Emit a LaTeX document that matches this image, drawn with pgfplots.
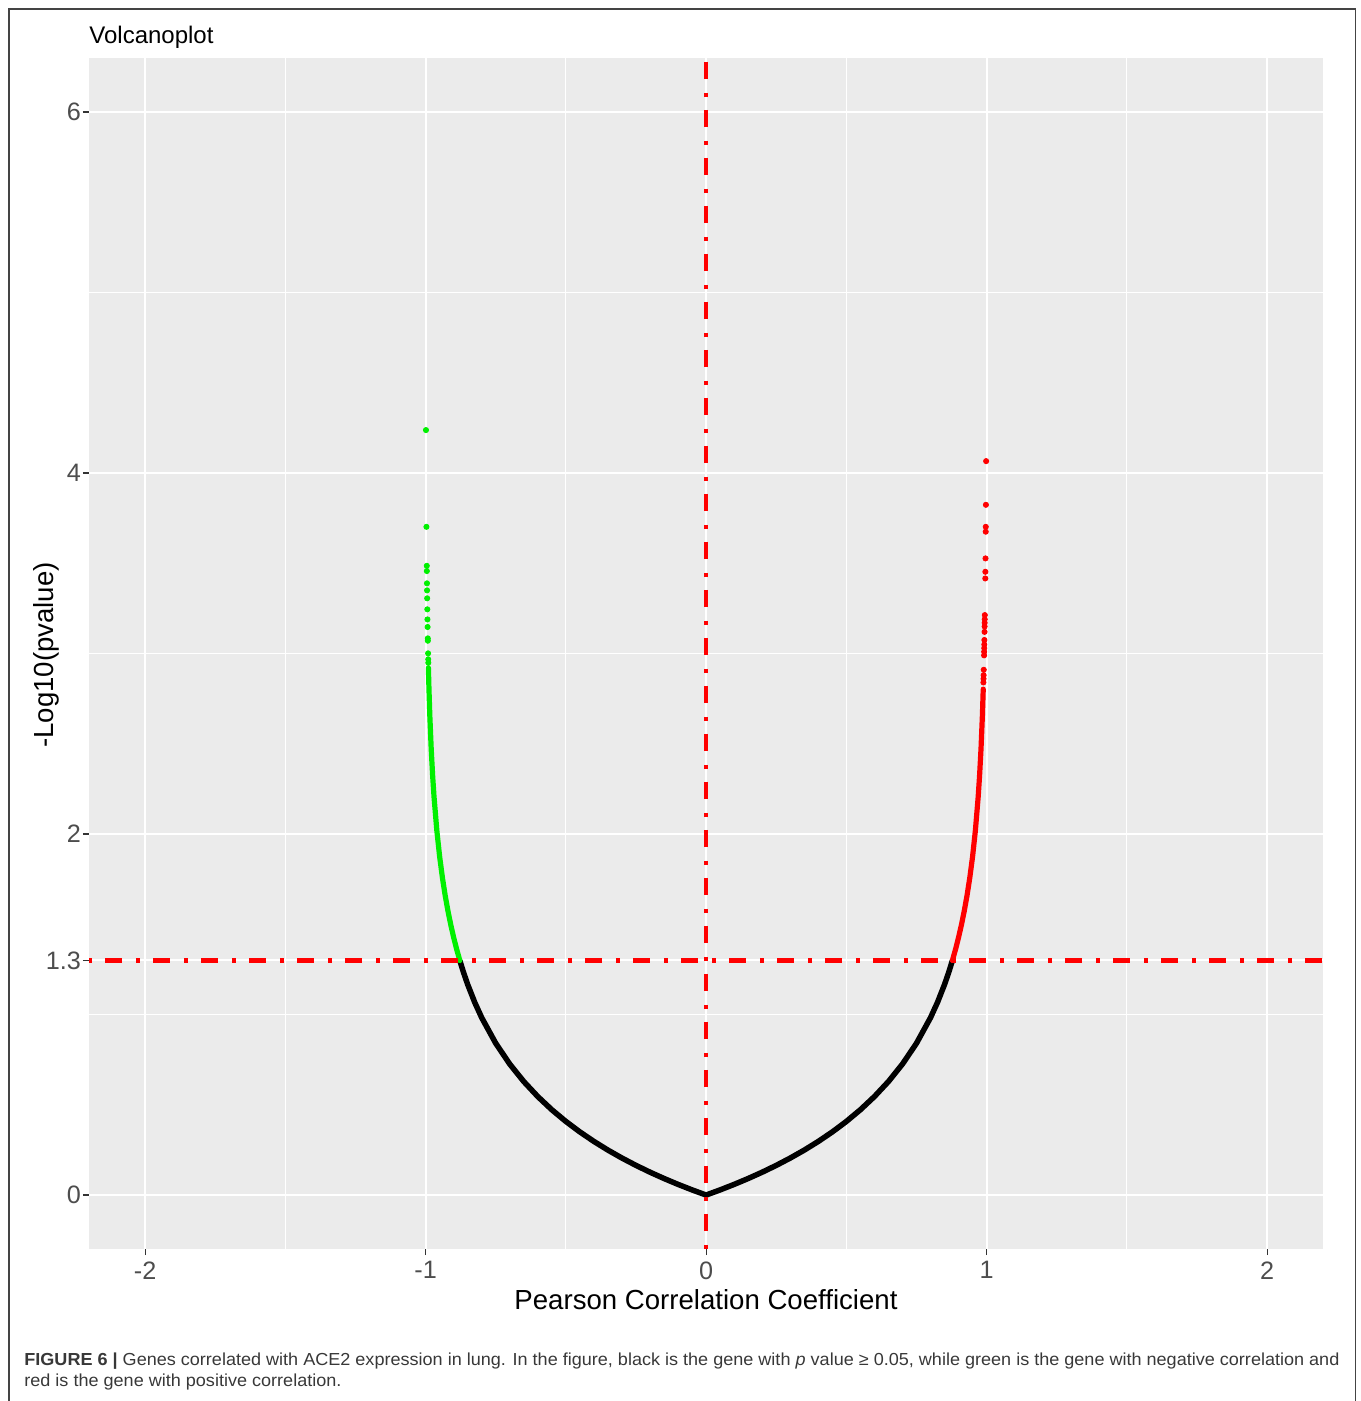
\documentclass[border=0pt]{standalone}
\usepackage{fontspec}
\setmainfont{Liberation Sans}
\usepackage{graphicx}
\usepackage{pgfplots}
\pgfplotsset{compat=1.18}
\definecolor{ggbg}{HTML}{EBEBEB}
\definecolor{gg20}{HTML}{333333}
\definecolor{gg30}{HTML}{4D4D4D}
\definecolor{ggGreen}{HTML}{00F000}
\definecolor{ggRed}{HTML}{FF0000}
\definecolor{frameC}{HTML}{444444}
\newlength\capw
\newcommand\capfont{\fontsize{8.7}{10}\selectfont}
\newcommand\capA{\textbf{FIGURE 6 |} Genes correlated with ACE2 expression in lung. In the figure, black is the gene with \textit{p} value ≥ 0.05, while green is the gene with negative correlation and}
\newcommand\capB{red is the gene with positive correlation.}
\begin{document}
\settowidth{\capw}{\capfont\capA}%
\pgfmathsetmacro\capscale{657.5pt/\capw}%
\begin{tikzpicture}
\path[use as bounding box] (0,0) rectangle (680pt,700.5pt);
\begin{axis}[
  at={(44.5pt,75.9pt)}, anchor=south west,
  width=617.1pt, height=595.65pt, scale only axis,
  xmin=-2.2, xmax=2.2, ymin=-0.3, ymax=6.3,
  axis background/.style={fill=ggbg},
  axis line style={draw=none},
  xtick={-2,-1,0,1,2}, xticklabels={-2,-1,0,1,2},
  ytick={0,1.3,2,4,6}, yticklabels={0,1.3,2,4,6},
  minor xtick={-1.5,-0.5,0.5,1.5}, minor ytick={1,3,5},
  grid=both,
  major grid style={white, line width=1pt},
  minor grid style={white, line width=0.5pt},
  tick align=outside, xtick pos=left, ytick pos=left,
  major tick length=3pt, minor tick length=0pt,
  tick style={color=gg20, line width=0.55pt},
  tick label style={font=\fontsize{12.6}{15}\selectfont, text=gg30},
  xticklabel style={inner sep=0pt, anchor=north, yshift=-3pt},
  yticklabel style={inner sep=0pt, anchor=east, xshift=-0.9pt},
]
% black: p >= 0.05
\addplot[black, line width=2.75pt, line join=round] coordinates {
(-0.878,1.29921)(-0.865,1.23417)(-0.85,1.16652)(-0.825,1.06785)(-0.8,0.98260)
(-0.75,0.84077)(-0.7,0.72558)(-0.65,0.62879)(-0.6,0.54550)(-0.55,0.47256)
(-0.5,0.40782)(-0.45,0.34968)(-0.4,0.29706)(-0.35,0.24900)(-0.3,0.20493)
(-0.25,0.16429)(-0.2,0.12665)(-0.15,0.09166)(-0.1,0.05904)(-0.05,0.02856)
(0,0)
(0.05,0.02856)(0.1,0.05904)(0.15,0.09166)(0.2,0.12665)(0.25,0.16429)
(0.3,0.20493)(0.35,0.24900)(0.4,0.29706)(0.45,0.34968)(0.5,0.40782)
(0.55,0.47256)(0.6,0.54550)(0.65,0.62879)(0.7,0.72558)(0.75,0.84077)
(0.8,0.98260)(0.825,1.06785)(0.85,1.16652)(0.865,1.23417)(0.878,1.29921)
};
% green: negative correlation
\addplot[ggGreen, line width=2.6pt, line join=round, line cap=round] coordinates {
(-0.878,1.29921)(-0.89,1.36585)(-0.9,1.42731)(-0.91,1.49526)(-0.92,1.57132)
(-0.93,1.65763)(-0.94,1.75739)(-0.95,1.87550)(-0.96,2.02018)(-0.97,2.20691)
(-0.975,2.32537)(-0.98,2.47044)(-0.985,2.65758)(-0.988,2.80273)(-0.99,2.92132)
};
\addplot[only marks, mark=*, mark size=1.3pt, color=ggGreen] coordinates {
(-0.99868,4.238)(-0.99699,3.702)(-0.99580,3.486)(-0.99561,3.457)(-0.99513,3.389)
(-0.99483,3.350)(-0.99447,3.306)(-0.99392,3.245)(-0.99338,3.189)(-0.99293,3.147)
(-0.99222,3.084)(-0.99206,3.071)(-0.99116,3.001)(-0.99070,2.968)(-0.99043,2.949)
};
% red: positive correlation
\addplot[ggRed, line width=2.6pt, line join=round, line cap=round] coordinates {
(0.878,1.29921)(0.89,1.36585)(0.9,1.42731)(0.91,1.49526)(0.92,1.57132)
(0.93,1.65763)(0.94,1.75739)(0.95,1.87550)(0.96,2.02018)(0.97,2.20691)
(0.975,2.32537)(0.98,2.47044)(0.985,2.65758)(0.988,2.80273)
};
\addplot[only marks, mark=*, mark size=1.3pt, color=ggRed] coordinates {
(0.98868,2.84)(0.98902,2.86)(0.98936,2.88)(0.98983,2.91)(0.99101,2.99)
(0.99128,3.01)(0.99154,3.03)(0.99180,3.05)(0.99211,3.075)(0.99264,3.12)
(0.99297,3.15)(0.99318,3.17)(0.99339,3.19)(0.99362,3.213)(0.99532,3.416)
(0.99558,3.453)(0.99606,3.527)(0.99686,3.675)(0.99699,3.702)(0.99750,3.824)
(0.99828,4.066)
};
% threshold lines
\addplot[ggRed, line width=2.25pt, dash pattern=on 8.5pt off 7pt on 2pt off 6.5pt, dash phase=22pt] coordinates {(0,6.3)(0,-0.3)};
\addplot[ggRed, line width=2.25pt, dash pattern=on 8.5pt off 7pt on 2pt off 6.5pt, dash phase=16pt] coordinates {(-2.2,1.3)(2.2,1.3)};
\end{axis}
\node[anchor=base west, inner sep=0pt, font=\fontsize{12}{14}\selectfont] at (44.5pt,678.5pt) {Volcanoplot};
\node[anchor=base, inner sep=0pt, font=\fontsize{13.8}{16}\selectfont] at (353pt,45.5pt) {Pearson Correlation Coefficient};
\node[anchor=base, rotate=90, inner sep=0pt, font=\fontsize{13.8}{16}\selectfont] at (26.7pt,373pt) {-Log10(pvalue)};
\node[anchor=base west, inner sep=0pt, text=black!78] at (12pt,17.7pt) {\scalebox{\capscale}[1]{\capfont\capA}};
\node[anchor=base west, inner sep=0pt, text=black!78] at (12pt,7pt) {\scalebox{\capscale}[1]{\capfont\capB}};
\draw[frameC, line width=0.85pt] (4.35pt,-2pt) -- (4.35pt,696.15pt) -- (677.75pt,696.15pt) -- (677.75pt,-2pt);
\end{tikzpicture}
\end{document}
